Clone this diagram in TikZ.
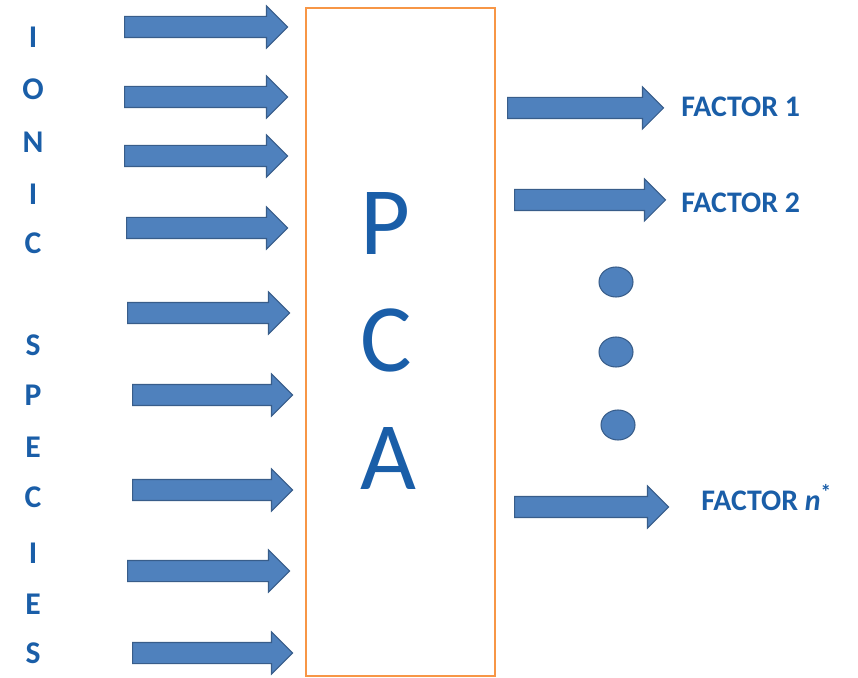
\documentclass[tikz,border=0pt]{standalone}
\usepackage{fontspec}
\setmainfont{Carlito}
\usepackage{tikz}
\usetikzlibrary{shapes.arrows, shapes.geometric, positioning}
\definecolor{txtblue}{RGB}{26,94,168}
\definecolor{arrfill}{RGB}{79,129,189}
\definecolor{arredge}{RGB}{56,93,138}
\definecolor{boxorange}{RGB}{247,150,70}
\tikzset{
  blockarrow/.style={single arrow, draw=arredge, fill=arrfill, line width=0.6pt,
    inner xsep=0pt, inner ysep=0.2cm, minimum width=0.82cm, single arrow head extend=0.21cm,
    minimum height=#1, anchor=tail},
  letter/.style={text=txtblue, font=\fontsize{18}{20}\selectfont\bfseries, inner sep=0pt},
  factor/.style={text=txtblue, font=\fontsize{17}{19}\selectfont\bfseries, inner sep=0pt, anchor=west},
  bigletter/.style={text=txtblue, font=\fontsize{55}{60}\selectfont, inner sep=0pt},
  dot/.style={ellipse, draw=arredge, fill=arrfill, line width=0.6pt, minimum width=0.68cm, minimum height=0.6cm, inner sep=0pt}
}
\begin{document}
\begin{tikzpicture}[x=0.02cm, y=-0.02cm]
\useasboundingbox (0,0) rectangle (858,678);
% --- PCA box ---
\node[draw=boxorange, line width=1.2pt, minimum width=3.78cm, minimum height=13.36cm, inner sep=0pt] (pca) at (400.5,342) {};
\node[bigletter] (p) at (385,224) {P};
\node[bigletter] (c) at (386,340) {C};
\node[bigletter] (a) at (388,458) {A};
% --- ionic species ---
\foreach \ch/\y [count=\i] in {I/37, O/89, N/142, I/194, C/243, S/345, P/395, E/447, C/497, I/553, E/604, S/653}
  \node[letter] (sp\i) at (33,\y) {\ch};
% --- input arrows ---
\foreach \xa/\xb/\y [count=\i] in {124/287/27, 124/287/97, 124/287/156, 126/287/228, 127/289/313, 132/292/395, 132/292/490, 127/289/571, 132/292/653}
  \node[blockarrow=(\xb-\xa)*0.02cm] (in\i) at (\xa,\y) {};
% --- output arrows ---
\node[blockarrow=3.12cm] (out1) at (507,108) {};
\node[blockarrow=3.02cm] (out2) at (514,200) {};
\node[blockarrow=3.08cm] (outn) at (514,507) {};
\node[factor] (f1) at (681,107) {FACTOR 1};
\node[factor] (f2) at (681,203) {FACTOR 2};
\node[factor] (fn) at (701,498) {FACTOR \textit{n}\textsuperscript{\large *}};
% --- dots ---
\node[dot] (d1) at (616,282) {};
\node[dot] (d2) at (616,352) {};
\node[dot] (d3) at (618,425) {};
\end{tikzpicture}
\end{document}
